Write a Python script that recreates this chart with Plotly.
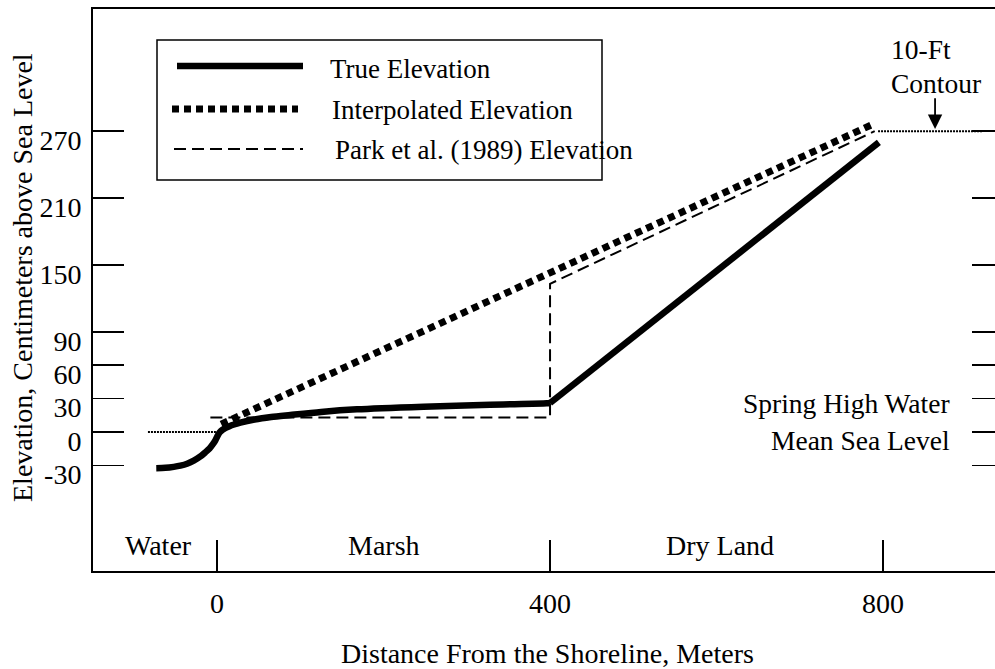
import plotly.graph_objects as go

# ---------------- data ----------------
# True elevation: curved marsh profile, then straight rise over dry land
x_true_curve = [-73, -62, -52, -44, -36, -28, -20, -14, -9, -5, -2, 0, 3, 7, 15, 28, 45, 65, 88, 125, 168, 248, 328, 396, 400]
y_true_curve = [-32.5, -32.2, -31.3, -30.2, -28.5, -25.8, -22, -18.2, -14.8, -11, -7.5, -4.5, -0.5, 2.2, 5.2, 8.3, 11.2, 13.5, 15.3, 18, 20.3, 22.7, 24.5, 25.7, 26]
x_true_line = [400, 795]
y_true_line = [26, 260]

x_interp = [5, 790]
y_interp = [7, 277]

x_park = [-8, 400, 400, 790]
y_park = [13, 13, 133, 270]

x_msl = [-83, 1]
y_msl = [0, 0]

x_contour = [794, 920]
y_contour = [270, 270]

x_ticks = [0, 400, 800]
x_ticklabels = ["0", "400", "800"]
y_ticks = [270, 210, 150, 90, 60, 30, 0, -30]
y_ticklabels = ["270", "210", "150", "90", "60", "30", "0", "-30"]

regions = ["Water", "Marsh", "Dry Land"]
region_x = [-70, 200, 604]

series_names = ["True Elevation", "Interpolated Elevation", "Park et al. (1989) Elevation"]

FONT = "Liberation Serif, Times New Roman, serif"
FS = 28

# plot-area pixel geometry (used only for placing decorations in paper units)
L, R, T, B = 93, 995, 9, 571
def px(x):
    return (x - L) / (R - L)
def py(y):
    return (B - y) / (B - T)

line_true = dict(color="black", width=6.5)
line_interp = dict(color="black", width=7, dash="7px,5px")
line_park = dict(color="black", width=2, dash="12px,6px")
line_ref = dict(color="black", width=2, dash="2px,1px")

fig = go.Figure()
fig.add_trace(go.Scatter(x=x_true_curve, y=y_true_curve, mode="lines", name=series_names[0],
                         legendgroup="true", line=dict(line_true, shape="spline", smoothing=0.8)))
fig.add_trace(go.Scatter(x=x_true_line, y=y_true_line, mode="lines", name=series_names[0],
                         legendgroup="true", line=line_true))
fig.add_trace(go.Scatter(x=x_interp, y=y_interp, mode="lines", name=series_names[1], line=line_interp))
fig.add_trace(go.Scatter(x=x_park, y=y_park, mode="lines", name=series_names[2], line=line_park))
fig.add_trace(go.Scatter(x=x_msl, y=y_msl, mode="lines", line=line_ref))
fig.add_trace(go.Scatter(x=x_contour, y=y_contour, mode="lines", line=line_ref))
# invisible trace to carry the right-hand tick axis
fig.add_trace(go.Scatter(x=[x_ticks[0]], y=[y_ticks[0]], yaxis="y2", mode="markers",
                         marker=dict(opacity=0), hoverinfo="skip"))

# ---------------- legend (drawn as a box with sample lines) ----------------
shapes = [dict(type="rect", xref="paper", yref="paper", x0=px(157), x1=px(602), y0=py(180), y1=py(40),
               line=dict(color="black", width=1.5), fillcolor="white", layer="above")]
legend_rows = [(177, 303, 66, line_true, 328, 69),
               (172, 298, 109, line_interp, 330, 110),
               (174, 303, 149, line_park, 333, 150)]
annotations = []
for name, (x0, x1, yl, ln, xt, yt) in zip(series_names, legend_rows):
    shapes.append(dict(type="line", xref="paper", yref="paper", x0=px(x0), x1=px(x1), y0=py(yl), y1=py(yl),
                       line=dict(color="black", width=ln["width"], dash=ln.get("dash", "solid")), layer="above"))
    annotations.append(dict(x=px(xt), y=py(yt), xref="paper", yref="paper", text=name, showarrow=False,
                            xanchor="left", yanchor="middle", font=dict(size=27)))

for name, xv in zip(regions, region_x):
    annotations.append(dict(x=xv, y=0.045, xref="x", yref="paper", text=name, showarrow=False,
                            xanchor="center", yanchor="middle", font=dict(size=FS)))
annotations += [
    dict(x=883, y=26, xref="x", yref="y", text="Spring High Water", showarrow=False,
         xanchor="right", yanchor="middle", font=dict(size=27.5)),
    dict(x=883, y=-7.2, xref="x", yref="y", text="Mean Sea Level", showarrow=False,
         xanchor="right", yanchor="middle", font=dict(size=27.5)),
    dict(x=807, y=343, xref="x", yref="y", text="10-Ft", showarrow=False,
         xanchor="left", yanchor="middle", font=dict(size=27.5)),
    dict(x=807, y=313, xref="x", yref="y", text="Contour", showarrow=False,
         xanchor="left", yanchor="middle", font=dict(size=27.5)),
    dict(x=862.5, y=272, xref="x", yref="y", ax=862.5, ay=301, axref="x", ayref="y",
         text="", showarrow=True, arrowhead=2, arrowsize=1.6, arrowwidth=1.8, arrowcolor="black"),
    dict(x=px(22), y=py(278), xref="paper", yref="paper", text="Elevation, Centimeters above Sea Level",
         textangle=-90, showarrow=False, xanchor="center", yanchor="middle", font=dict(size=FS)),
    dict(x=px(547), y=py(653), xref="paper", yref="paper", text="Distance From the Shoreline, Meters",
         showarrow=False, xanchor="center", yanchor="middle", font=dict(size=FS)),
]

fig.update_layout(
    width=995, height=669,
    margin=dict(l=L, r=995 - R, t=T, b=669 - B),
    paper_bgcolor="white", plot_bgcolor="white",
    font=dict(family=FONT, size=FS, color="black"),
    showlegend=False,
    hovermode=False,
    xaxis=dict(range=[-149, 934.5], tickvals=x_ticks, ticktext=x_ticklabels,
               ticks="inside", ticklen=31, tickwidth=1.8, tickcolor="black",
               showline=True, linewidth=2, linecolor="black", mirror=True,
               showgrid=False, zeroline=False, ticklabelstandoff=6,
               tickfont=dict(size=FS)),
    yaxis=dict(range=[-124.8, 379.7], tickvals=y_ticks, ticktext=y_ticklabels,
               ticks="inside", ticklen=31, tickwidth=1.8, tickcolor="black",
               showline=True, linewidth=2, linecolor="black", mirror=False,
               showgrid=False, zeroline=False, ticklabelstandoff=4, ticklabelshift=9,
               tickfont=dict(size=FS)),
    yaxis2=dict(range=[-124.8, 379.7], overlaying="y", side="right", tickvals=y_ticks,
                ticks="inside", ticklen=23, tickwidth=1.8, tickcolor="black",
                showticklabels=False, showline=False, showgrid=False, zeroline=False),
    shapes=shapes,
    annotations=annotations,
)

fig.write_html("out.html", post_script="document.body.style.margin='0px';",
               config={"displayModeBar": False, "staticPlot": True})
